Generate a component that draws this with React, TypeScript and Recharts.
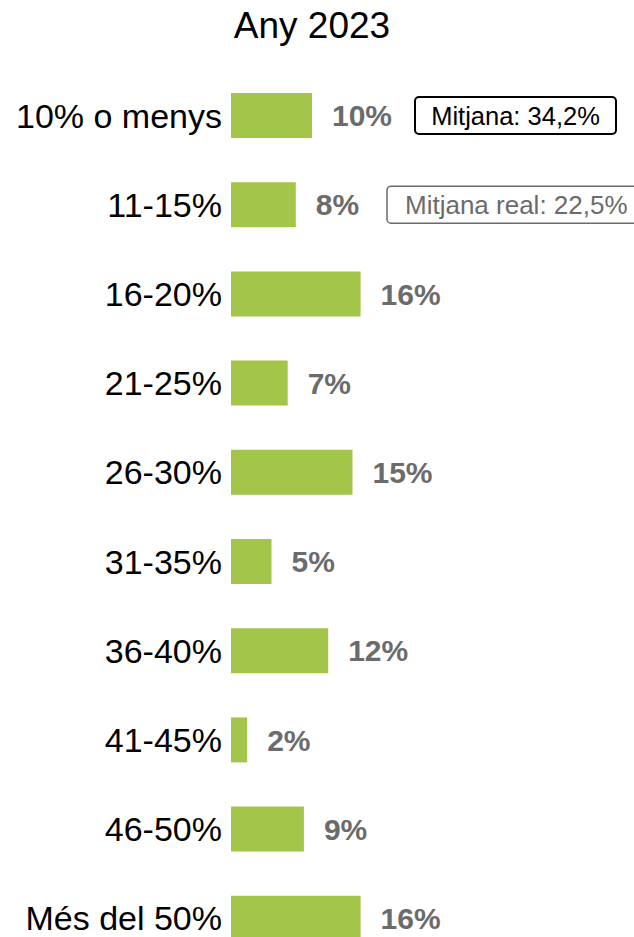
import React from 'react'
import { BarChart, Bar, XAxis, YAxis, LabelList } from 'recharts'

const categories = [
  '10% o menys',
  '11-15%',
  '16-20%',
  '21-25%',
  '26-30%',
  '31-35%',
  '36-40%',
  '41-45%',
  '46-50%',
  'Més del 50%',
]
const shares = [10, 8, 16, 7, 15, 5, 12, 2, 9, 16]

const title = 'Any 2023'
const averageText = 'Mitjana: 34,2%'
const realAverageText = 'Mitjana real: 22,5%'

const data = categories.map((name, i) => ({ name, value: shares[i] }))

const FONT = '"Liberation Sans", Arial, sans-serif'
const GREEN = '#a3c64a'
const GREY = '#6b6b6b'

// boxes sit beside the first two bars
function AverageBox(props: any) {
  const { y, height, index } = props
  const cy = y + height / 2
  if (index === 0) {
    return (
      <g>
        <rect x={415} y={cy - 18.5} width={201} height={37} rx={4} fill="#fff" stroke="#000" strokeWidth={2} />
        <text x={515.5} y={cy} dy="0.36em" textAnchor="middle" fontSize={25.5} fontFamily={FONT} fill="#000">
          {averageText}
        </text>
      </g>
    )
  }
  if (index === 1) {
    return (
      <g>
        <rect x={387} y={cy - 18.5} width={260} height={37} rx={4} fill="#fff" stroke={GREY} strokeWidth={1.5} />
        <text x={405} y={cy} dy="0.36em" textAnchor="start" fontSize={26} fontFamily={FONT} fill={GREY}>
          {realAverageText}
        </text>
      </g>
    )
  }
  return null
}

export default function App() {
  return (
    <div style={{ position: 'absolute', left: 0, top: 0, width: 634, height: 975, background: '#fff' }}>
      <BarChart
        width={634}
        height={975}
        data={data}
        layout="vertical"
        margin={{ top: 71, right: 79, bottom: 12, left: 0 }}
        barSize={45}
      >
        <text x={312} y={38} textAnchor="middle" fontSize={37} fontFamily={FONT} fill="#000">
          {title}
        </text>
        <XAxis type="number" domain={[0, 40]} hide />
        <YAxis
          type="category"
          dataKey="name"
          width={231}
          axisLine={false}
          tickLine={false}
          tickSize={0}
          tickMargin={9}
          tick={{ fill: '#000', fontSize: 34, fontFamily: FONT }}
          interval={0}
        />
        <Bar dataKey="value" fill={GREEN} isAnimationActive={false}>
          <LabelList
            dataKey="value"
            position="right"
            offset={20}
            formatter={(v: any) => `${v}%`}
            style={{ fill: GREY, fontSize: 30, fontWeight: 'bold', fontFamily: FONT }}
          />
          <LabelList dataKey="value" content={AverageBox} />
        </Bar>
      </BarChart>
    </div>
  )
}
